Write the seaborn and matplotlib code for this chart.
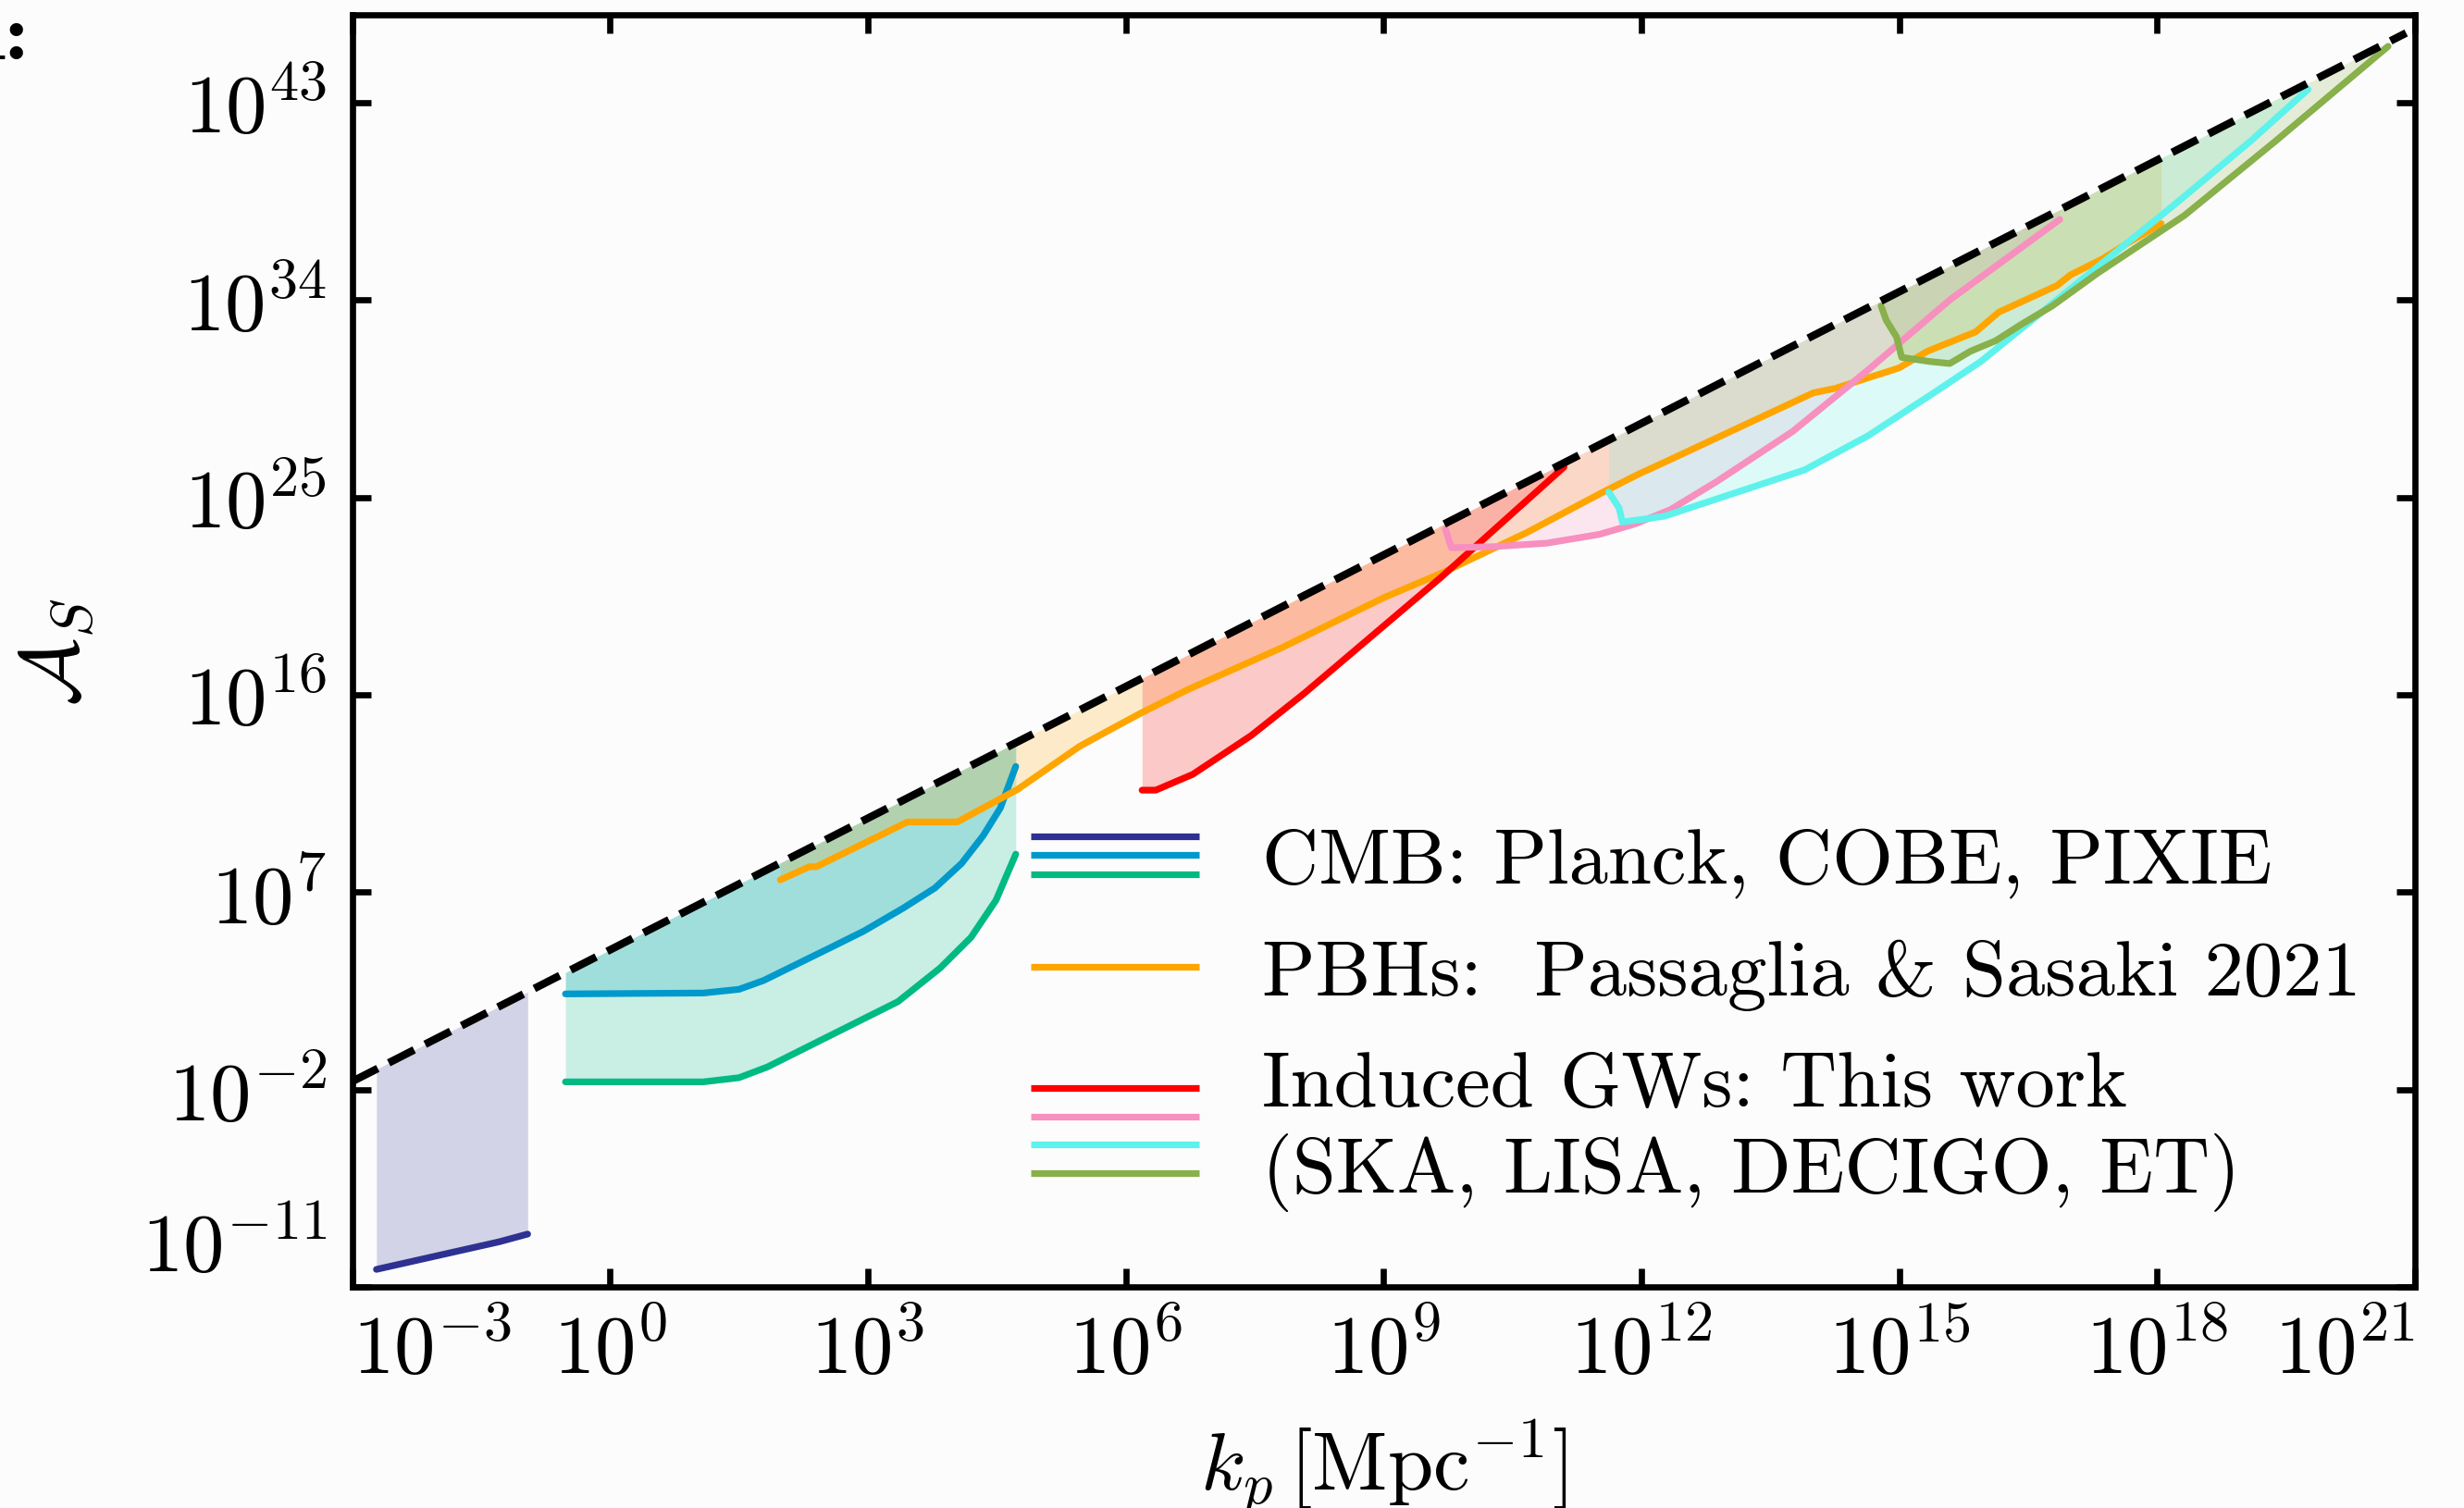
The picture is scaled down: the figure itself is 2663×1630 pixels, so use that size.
import numpy as np
import matplotlib
matplotlib.use("Agg")
import matplotlib.pyplot as plt
from matplotlib.legend_handler import HandlerBase
from matplotlib.lines import Line2D
from matplotlib.ticker import NullLocator
import seaborn as sns

# values, as exponents: log10(k_p / Mpc^-1) and log10(A_S)
dash_logk = [-3.0, 20.9]
dash_logA = [-1.63, 46.17]

planck_logk = [-2.72, -1.29, -0.96]
planck_logA = [-10.2, -8.94, -8.59]

cobe_logk = [-0.52, 1.085, 1.50, 1.785, 2.59, 2.95, 3.41, 3.78, 4.09, 4.34,
             4.54, 4.72]
cobe_logA = [2.36, 2.40, 2.57, 2.97, 4.52, 5.22, 6.27, 7.19, 8.31, 9.57,
             10.83, 12.73]

pixie_logk = [-0.52, 1.085, 1.50, 1.83, 3.35, 3.84, 4.20, 4.49, 4.72]
pixie_logA = [-1.65, -1.65, -1.46, -0.97, 2.01, 3.54, 4.94, 6.63, 8.73]

pbh_logk = [1.98, 2.32, 2.40, 3.46, 4.04, 4.74, 5.46, 5.82, 6.19, 6.72, 7.83,
            9.0, 9.68, 10.67, 11.29, 11.60, 11.97, 12.27, 14.0, 14.26, 15.0,
            15.33, 15.89, 16.16, 16.84, 16.99, 17.37, 17.64, 18.05]
pbh_logA = [7.56, 8.16, 8.16, 10.2, 10.2, 11.68, 13.64, 14.41, 15.19, 16.23,
            18.17, 20.42, 21.55, 23.4, 24.69, 25.33, 26.06, 26.6, 29.76, 29.97,
            30.9, 31.66, 32.54, 33.44, 34.66, 35.13, 35.88, 36.54, 37.48]

ska_logk = [6.19, 6.35, 6.78, 7.46, 8.08, 9.68, 11.10]
ska_logA = [11.65, 11.65, 12.37, 14.14, 16.07, 21.39, 26.38]

lisa_logk = [9.72, 9.79, 10.28, 10.90, 11.51, 11.93, 12.34, 12.87, 13.76,
             14.64, 15.59, 16.87]
lisa_logA = [23.55, 22.7, 22.75, 22.91, 23.31, 23.79, 24.44, 25.7, 28.0,
             30.81, 34.0, 37.67]

decigo_logk = [11.62, 11.74, 11.78, 12.27, 12.75, 13.90, 14.64, 15.41, 15.95,
               16.60, 17.31, 18.20, 19.09, 19.76]
decigo_logA = [25.24, 24.52, 23.87, 24.14, 24.76, 26.25, 27.81, 29.78, 31.19,
               33.25, 35.51, 38.33, 41.24, 43.6]

et_logk = [14.79, 14.85, 14.97, 15.03, 15.36, 15.59, 15.83, 16.12, 16.42,
           16.78, 17.31, 18.32, 19.38, 20.69]
et_logA = [33.72, 33.07, 32.31, 31.38, 31.19, 31.1, 31.66, 32.13, 32.88,
           33.72, 35.22, 37.85, 41.24, 45.56]

x_ticks = [1e-3, 1e0, 1e3, 1e6, 1e9, 1e12, 1e15, 1e18, 1e21]
x_ticklabels = [r'$10^{-3}$', r'$10^{0}$', r'$10^{3}$', r'$10^{6}$', r'$10^{9}$',
                r'$10^{12}$', r'$10^{15}$', r'$10^{18}$', r'$10^{21}$']
y_ticks = [1e-11, 1e-2, 1e7, 1e16, 1e25, 1e34, 1e43]
y_ticklabels = [r'$10^{-11}$', r'$10^{-2}$', r'$10^{7}$', r'$10^{16}$',
                r'$10^{25}$', r'$10^{34}$', r'$10^{43}$']

legend_labels = ["CMB: Planck, COBE, PIXIE",
                 "PBHs:  Passaglia & Sasaki 2021",
                 "Induced GWs: This work\n(SKA, LISA, DECIGO, ET)"]

c_planck, c_cobe, c_pixie = "#2e3192", "#0099cc", "#00ba83"
c_pbh = "#ffa500"
c_ska, c_lisa, c_decigo, c_et = "#ff0000", "#f78fbf", "#5ef2ec", "#88b04b"

series = [
    (planck_logk, planck_logA, c_planck),
    (cobe_logk, cobe_logA, c_cobe),
    (pixie_logk, pixie_logA, c_pixie),
    (pbh_logk, pbh_logA, c_pbh),
    (ska_logk, ska_logA, c_ska),
    (lisa_logk, lisa_logA, c_lisa),
    (decigo_logk, decigo_logA, c_decigo),
    (et_logk, et_logA, c_et),
]


class StackedLines(HandlerBase):
    # several short coloured lines stacked on top of each other
    def __init__(self, colors, gap):
        super().__init__()
        self.colors = colors
        self.gap = gap

    def create_artists(self, legend, orig_handle, xdescent, ydescent,
                       width, height, fontsize, trans):
        n = len(self.colors)
        ymid = height / 2 - ydescent
        out = []
        for i, c in enumerate(self.colors):
            y = ymid + (n - 1) / 2 * self.gap - i * self.gap
            ln = Line2D([-xdescent, -xdescent + width], [y, y], color=c,
                        lw=2.6, solid_capstyle='butt')
            ln.set_transform(trans)
            out.append(ln)
        return out


def upper_bound(logk):
    return 10.0 ** np.interp(logk, dash_logk, dash_logA)


sns.set_theme(style="ticks")
plt.rcParams['font.family'] = ['cmr10', 'DejaVu Serif']
plt.rcParams['mathtext.fontset'] = 'cm'
plt.rcParams['axes.formatter.use_mathtext'] = True
plt.rcParams['axes.unicode_minus'] = False

bg = "#fcfcfc"
fig, ax = plt.subplots(figsize=(13.315, 8.155), dpi=200, facecolor=bg)
fig.subplots_adjust(left=0.143, right=0.980, top=0.9896, bottom=0.1465)
ax.set_facecolor(bg)
ax.set_xscale('log')
ax.set_yscale('log')

for logk, logA, color in series:
    k = 10.0 ** np.array(logk)
    A = 10.0 ** np.array(logA)
    ax.fill_between(k, A, upper_bound(logk), color=color, alpha=0.2, lw=0)

for logk, logA, color in series:
    sns.lineplot(x=10.0 ** np.array(logk), y=10.0 ** np.array(logA), ax=ax,
                 color=color, lw=2.6, sort=False, estimator=None)

sns.lineplot(x=10.0 ** np.array(dash_logk), y=10.0 ** np.array(dash_logA),
             ax=ax, color='black', lw=3.0, linestyle='--', sort=False,
             estimator=None)

ax.set_xlim(1e-3, 1e21)
ax.set_ylim(1e-11, 1e47)
ax.set_xticks(x_ticks, x_ticklabels)
ax.set_yticks(y_ticks, y_ticklabels)
ax.xaxis.set_minor_locator(NullLocator())
ax.yaxis.set_minor_locator(NullLocator())
ax.tick_params(which='major', direction='in', length=7.2, width=2.4,
               top=True, right=True, labelsize=32, pad=10, color='black',
               labelcolor='black')
ax.get_xticklabels()[0].set_horizontalalignment('left')
ax.get_xticklabels()[-1].set_horizontalalignment('right')
ax.get_yticklabels()[0].set_verticalalignment('bottom')
for sp in ax.spines.values():
    sp.set_visible(True)
    sp.set_linewidth(2.4)
    sp.set_color('black')

ax.set_xlabel(r'$k_p\,[\mathrm{Mpc}^{-1}]$', fontsize=32, labelpad=11,
              color='black')
ax.set_ylabel(r'$\mathcal{A}_S$', fontsize=32, labelpad=18, color='black')

h_cmb, h_pbh, h_gw = Line2D([], []), Line2D([], []), Line2D([], [])
leg = ax.legend(
    [h_cmb, h_pbh, h_gw], legend_labels,
    handler_map={
        h_cmb: StackedLines([c_planck, c_cobe, c_pixie], 7.3),
        h_pbh: StackedLines([c_pbh], 0),
        h_gw: StackedLines([c_ska, c_lisa, c_decigo, c_et], 11.0),
    },
    loc='upper left', bbox_to_anchor=(0.329, 0.361), frameon=False,
    borderpad=0, borderaxespad=0, handlelength=2.15, handletextpad=0.8,
    labelspacing=0.52, prop={'family': 'cmr10', 'size': 30.5},
)
for t in leg.get_texts():
    t.set_linespacing(1.2)
    t.set_color('black')

fig.text(30 / 2663, 1 - 64 / 1631, 'n:', ha='right', va='baseline',
         fontsize=32, family='cmb10', color='black')

fig.savefig("out.png", dpi=200, facecolor=bg)
